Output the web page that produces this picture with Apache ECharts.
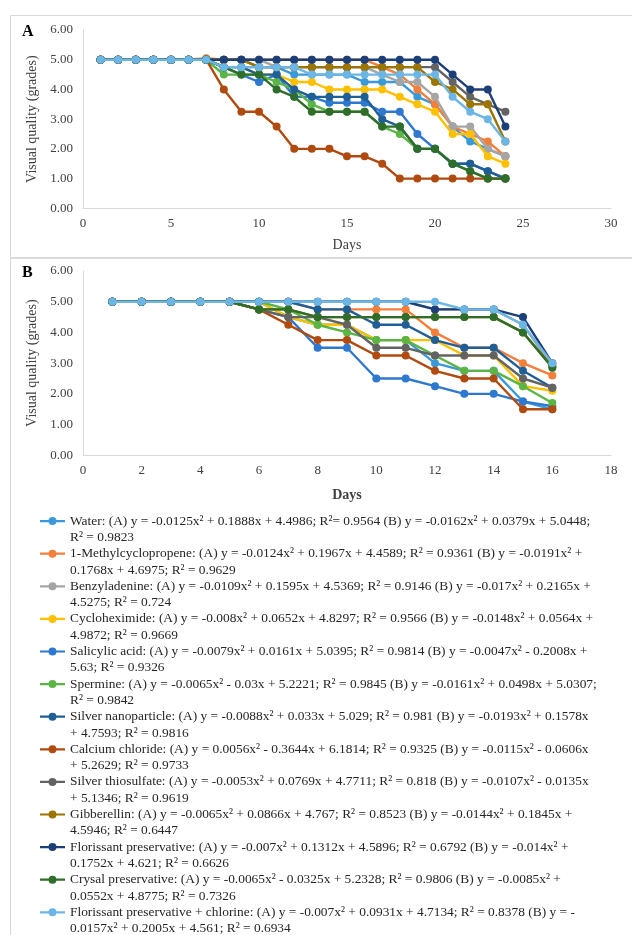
<!DOCTYPE html>
<html>
<head>
<meta charset="utf-8">
<script src="https://cdn.jsdelivr.net/npm/echarts@6/dist/echarts.min.js"></script>
<style>
html,body{margin:0;padding:0;background:#fff;}
#chart{width:632px;height:935px;}
</style>
</head>
<body>
<div id="chart"></div>
<script>
// ---- Data ----
const daysA = [1,2,3,4,5,6,7,8,9,10,11,12,13,14,15,16,17,18,19,20,21,22,23,24];
const daysB = [1,2,3,4,5,6,7,8,9,10,11,12,13,14,15,16];
const xTicksA = [0,5,10,15,20,25,30];
const xTicksB = [0,2,4,6,8,10,12,14,16,18];
const yTicks = ['0.00','1.00','2.00','3.00','4.00','5.00','6.00'];

const names = ['Water','1-Methylcyclopropene','Benzyladenine','Cycloheximide','Salicylic acid','Spermine','Silver nanoparticle','Calcium chloride','Silver thiosulfate','Gibberellin','Florissant preservative','Crysal preservative','Florissant preservative + chlorine'];

const legendTexts = [
 'Water: (A) y = -0.0125x² + 0.1888x + 4.4986; R²= 0.9564 (B) y = -0.0162x² + 0.0379x + 5.0448;\nR² = 0.9823',
 '1-Methylcyclopropene: (A) y = -0.0124x² + 0.1967x + 4.4589; R² = 0.9361 (B) y = -0.0191x² +\n0.1768x + 4.6975; R² = 0.9629',
 'Benzyladenine: (A) y = -0.0109x² + 0.1595x + 4.5369; R² = 0.9146 (B) y = -0.017x² + 0.2165x +\n4.5275; R² = 0.724',
 'Cycloheximide: (A) y = -0.008x² + 0.0652x + 4.8297; R² = 0.9566 (B) y = -0.0148x² + 0.0564x +\n4.9872; R² = 0.9669',
 'Salicylic acid: (A) y = -0.0079x² + 0.0161x + 5.0395; R² = 0.9814 (B) y = -0.0047x² - 0.2008x +\n5.63; R² = 0.9326',
 'Spermine: (A) y = -0.0065x² - 0.03x + 5.2221; R² = 0.9845 (B) y = -0.0161x² + 0.0498x + 5.0307;\nR² = 0.9842',
 'Silver nanoparticle: (A) y = -0.0088x² + 0.033x + 5.029; R² = 0.981 (B) y = -0.0193x² + 0.1578x\n+ 4.7593; R² = 0.9816',
 'Calcium chloride: (A) y = 0.0056x² - 0.3644x + 6.1814; R² = 0.9325 (B) y = -0.0115x² - 0.0606x\n+ 5.2629; R² = 0.9733',
 'Silver thiosulfate: (A) y = -0.0053x² + 0.0769x + 4.7711; R² = 0.818 (B) y = -0.0107x² - 0.0135x\n+ 5.1346; R² = 0.9619',
 'Gibberellin: (A) y = -0.0065x² + 0.0866x + 4.767; R² = 0.8523 (B) y = -0.0144x² + 0.1845x +\n4.5946; R² = 0.6447',
 'Florissant preservative: (A) y = -0.007x² + 0.1312x + 4.5896; R² = 0.6792 (B) y = -0.014x² +\n0.1752x + 4.621; R² = 0.6626',
 'Crysal preservative: (A) y = -0.0065x² - 0.0325x + 5.2328; R² = 0.9806 (B) y = -0.0085x² +\n0.0552x + 4.8775; R² = 0.7326',
 'Florissant preservative + chlorine: (A) y = -0.007x² + 0.0931x + 4.7134; R² = 0.8378 (B) y = -\n0.0157x² + 0.2005x + 4.561; R² = 0.6934'
];

// Panel A (days 1-24)
const waterA      = [5,5,5,5,5,5,5,4.75,4.75,4.75,4.75,4.5,4.5,4.5,4.5,4.25,4.25,4.25,3.75,3.5,2.75,2.25,2.0,1.75];
const mcpA        = [5,5,5,5,5,5,5.05,5,5,5,5,5,5,5,5,5,4.75,4.5,4.0,3.5,2.75,2.5,2.25,1.75];
const benzylA     = [5,5,5,5,5,5,5,5,5,5,4.75,4.75,4.75,4.75,4.75,4.75,4.5,4.25,4.25,3.75,2.75,2.75,2.0,1.75];
const cycloA      = [5,5,5,5,5,5,5,4.75,4.75,4.5,4.5,4.25,4.25,4.0,4.0,4.0,4.0,3.75,3.5,3.25,2.5,2.5,1.75,1.5];
const salicylicA  = [5,5,5,5,5,5,5,4.75,4.5,4.25,4.5,3.75,3.75,3.55,3.55,3.55,3.25,3.25,2.5,2.0,1.5,1.5,1.25,1.0];
const spermineA   = [5,5,5,5,5,5,5,4.5,4.5,4.5,4.25,4.0,3.5,3.25,3.25,3.25,2.75,2.5,2.0,2.0,1.5,1.25,1.0,1.0];
const nanoA       = [5,5,5,5,5,5,5,4.75,4.75,4.5,4.5,4.0,3.75,3.75,3.75,3.75,3.0,2.75,2.0,2.0,1.5,1.5,1.25,1.0];
const calciumA    = [5,5,5,5,5,5,5,4.0,3.25,3.25,2.75,2.0,2.0,2.0,1.75,1.75,1.5,1.0,1.0,1.0,1.0,1.0,1.0,1.0];
const thioA       = [5,5,5,5,5,5,5,5,5,4.75,4.75,4.75,4.75,4.75,4.75,4.75,4.75,4.75,4.75,4.75,4.25,3.75,3.5,3.25];
const gibbA       = [5,5,5,5,5,5,5,5,5,4.75,4.75,4.75,4.75,4.75,4.75,4.75,4.75,4.75,4.75,4.25,4.0,3.5,3.5,2.25];
const florA       = [5,5,5,5,5,5,5,5,5,5,5,5,5,5,5,5,5,5,5,5,4.5,4.0,4.0,2.75];
const crysalA     = [5,5,5,5,5,5,5,4.75,4.5,4.5,4.0,3.75,3.25,3.25,3.25,3.25,2.75,2.75,2.0,2.0,1.5,1.25,1.0,1.0];
const florClA     = [5,5,5,5,5,5,5,4.75,4.75,4.75,4.75,4.75,4.5,4.5,4.5,4.5,4.5,4.5,4.5,4.5,3.75,3.25,3.0,2.25];

// Panel B (days 1-16)
const waterB      = [5,5,5,5,5,5,4.5,4.25,4.25,3.75,3.75,3.0,2.75,2.75,1.75,1.5];
const mcpB        = [5,5,5,5,5,5,5,4.75,4.75,4.75,4.75,4.0,3.5,3.5,3.0,2.6];
const benzylB     = [5,5,5,5,5,5,5,5,5,5,5,4.75,4.75,4.75,4.25,2.9];
const cycloB      = [5,5,5,5,5,5,4.5,4.25,4.25,3.75,3.75,3.75,3.25,3.25,2.25,2.1];
const salicylicB  = [5,5,5,5,5,4.75,4.5,3.5,3.5,2.5,2.5,2.25,2.0,2.0,1.75,1.6];
const spermineB   = [5,5,5,5,5,5,4.75,4.25,4.0,3.75,3.75,3.25,2.75,2.75,2.25,1.7];
const nanoB       = [5,5,5,5,5,5,5,4.75,4.75,4.25,4.25,3.75,3.5,3.5,2.75,2.2];
const calciumB    = [5,5,5,5,5,4.75,4.25,3.75,3.75,3.25,3.25,2.75,2.5,2.5,1.5,1.5];
const thioB       = [5,5,5,5,5,4.75,4.5,4.5,4.25,3.5,3.5,3.25,3.25,3.25,2.5,2.2];
const gibbB       = [5,5,5,5,5,4.75,4.75,4.5,4.5,4.5,4.5,4.5,4.5,4.5,4.0,2.9];
const florB       = [5,5,5,5,5,5,5,5,5,5,5,4.75,4.75,4.75,4.5,3.0];
const crysalB     = [5,5,5,5,5,4.75,4.75,4.5,4.5,4.5,4.5,4.5,4.5,4.5,4.0,2.85];
const florClB     = [5,5,5,5,5,5,5,5,5,5,5,5,4.75,4.75,4.25,3.0];

const seriesA = [waterA,mcpA,benzylA,cycloA,salicylicA,spermineA,nanoA,calciumA,thioA,gibbA,florA,crysalA,florClA];
const seriesB = [waterB,mcpB,benzylB,cycloB,salicylicB,spermineB,nanoB,calciumB,thioB,gibbB,florB,crysalB,florClB];

// ---- Styles ----
const colors = ['#3A9AD9','#F47F3A','#A5A5A5','#FFC000','#2F78D0','#5BB544','#1F5F96','#B04A0E','#636363','#9C7500','#1C3F78','#2E6E2A','#6CB6E6'];
const FONT = '"Liberation Serif","Times New Roman",serif';
const TXT = '#404040';
const LH = 16.3;
// legend icon: line with a dot, placed in the top part of a 25 x 32.6 box (aligned with first text line)
const legendIcon = 'path://M0,0 L0.01,0 L0,0.01 Z M25,32.6 L24.99,32.6 L25,32.59 Z ' +
  'M0,7 L8.6,7 L8.6,9.2 L0,9.2 Z M16.4,7 L25,7 L25,9.2 L16.4,9.2 Z ' +
  'M8.5,8.1 A4,4 0 1,1 16.5,8.1 A4,4 0 1,1 8.5,8.1 Z';

const chart = echarts.init(document.getElementById('chart'), null, {renderer:'canvas'});

function mkSeries(arrs, days, idx) {
  return arrs.map((vals, i) => ({
    type: 'line',
    name: names[i],
    xAxisIndex: idx, yAxisIndex: idx,
    data: days.map((d, j) => [d, vals[j]]),
    symbol: 'circle', symbolSize: 8,
    showSymbol: true,
    lineStyle: {width: 2.4, color: colors[i]},
    itemStyle: {color: colors[i]},
    animation: false,
    z: 2 + i
  }));
}

const yAxisCommon = {
  type: 'value', min: 0, max: 6, interval: 1,
  name: 'Visual quality (grades)', nameLocation: 'middle', nameGap: 40,
  nameTextStyle: {fontFamily: FONT, fontSize: 14, color: TXT},
  axisLine: {show: true, lineStyle: {color: '#d9d9d9'}},
  axisTick: {show: false},
  splitLine: {show: false},
  axisLabel: {fontFamily: FONT, fontSize: 13, color: TXT, margin: 10,
    formatter: v => yTicks[Math.round(v)]}
};

const option = {
  backgroundColor: '#fff',
  animation: false,
  grid: [
    {left: 83, top: 30, width: 528, height: 178.3},
    {left: 83, top: 271, width: 528, height: 184.3}
  ],
  xAxis: [
    {type: 'value', gridIndex: 0, min: xTicksA[0], max: xTicksA[xTicksA.length-1], interval: 5,
     name: 'Days', nameLocation: 'middle', nameGap: 30,
     nameTextStyle: {fontFamily: FONT, fontSize: 14, color: TXT},
     axisLine: {lineStyle: {color: '#d9d9d9'}}, axisTick: {show: false}, splitLine: {show: false},
     axisLabel: {fontFamily: FONT, fontSize: 13, color: TXT, margin: 9}},
    {type: 'value', gridIndex: 1, min: xTicksB[0], max: xTicksB[xTicksB.length-1], interval: 2,
     name: 'Days', nameLocation: 'middle', nameGap: 33,
     nameTextStyle: {fontFamily: FONT, fontSize: 14, color: TXT, fontWeight: 'bold'},
     axisLine: {lineStyle: {color: '#d9d9d9'}}, axisTick: {show: false}, splitLine: {show: false},
     axisLabel: {fontFamily: FONT, fontSize: 13, color: TXT, margin: 9}}
  ],
  yAxis: [
    Object.assign({gridIndex: 0}, yAxisCommon),
    Object.assign({gridIndex: 1}, yAxisCommon)
  ],
  legend: {
    data: names,
    orient: 'vertical',
    left: 40, top: 513, height: 600,
    padding: 0,
    icon: legendIcon,
    itemWidth: 25, itemHeight: 2 * LH,
    itemGap: 0,
    selectedMode: false,
    formatter: name => legendTexts[names.indexOf(name)],
    textStyle: {fontFamily: FONT, fontSize: 13.4, color: '#262626', lineHeight: LH}
  },
  graphic: [
    {type: 'rect', silent: true, shape: {x: 10.5, y: 15.5, width: 640, height: 242}, style: {fill: 'none', stroke: '#d9d9d9', lineWidth: 1}},
    {type: 'rect', silent: true, shape: {x: 10.5, y: 258.5, width: 640, height: 700}, style: {fill: 'none', stroke: '#d9d9d9', lineWidth: 1}},
    {type: 'text', left: 22, top: 24, style: {text: 'A', font: 'bold 16px ' + FONT, fill: '#000'}},
    {type: 'text', left: 22, top: 265, style: {text: 'B', font: 'bold 16px ' + FONT, fill: '#000'}}
  ],
  series: mkSeries(seriesA, daysA, 0).concat(mkSeries(seriesB, daysB, 1))
};
chart.setOption(option);
</script>
</body>
</html>
